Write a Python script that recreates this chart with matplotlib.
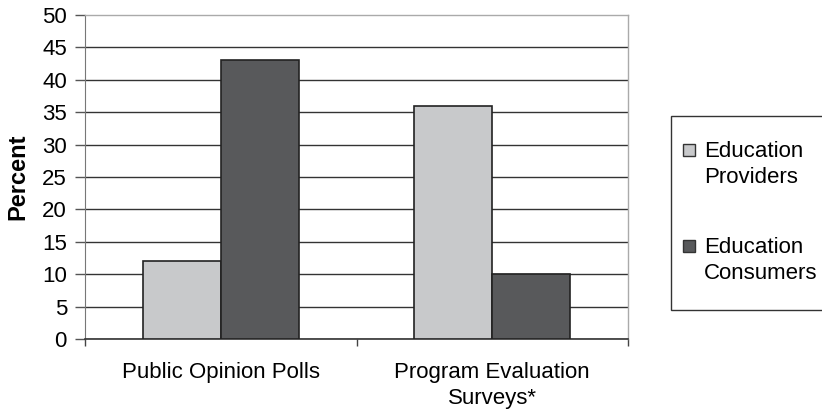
import numpy as np
import matplotlib.pyplot as plt
from matplotlib.patches import Rectangle

plt.rcParams['font.family'] = ['Liberation Sans', 'DejaVu Sans']

# datos del gráfico
categorias = ['Public Opinion Polls', 'Program Evaluation\nSurveys*']
proveedores = [12, 36]
consumidores = [43, 10]
series = ['Education\nProviders', 'Education\nConsumers']
colores = ['#c8c9cb', '#58595b']

fig = plt.figure(figsize=(8.22, 4.17), dpi=100)
W, H = 822, 417
ax = fig.add_axes([85 / W, 78 / H, 543 / W, 324 / H])

x = np.arange(len(categorias))
ancho = 0.287
ax.bar(x - ancho / 2, proveedores, ancho, color=colores[0],
       edgecolor='#222222', linewidth=1.2, zorder=3)
ax.bar(x + ancho / 2, consumidores, ancho, color=colores[1],
       edgecolor='#222222', linewidth=1.2, zorder=3)

ax.set_xlim(-0.5, 1.5)
ax.set_ylim(0, 50)
ax.set_yticks(range(0, 51, 5))
ax.yaxis.grid(True, color='#333333', linewidth=1.0)
ax.get_ygridlines()[-1].set_visible(False)
ax.set_axisbelow(True)

# marcas del eje x en los bordes de cada categoría
ax.set_xticks([-0.5, 0.5, 1.5])
ax.set_xticklabels([])
ax.tick_params(axis='x', direction='out', length=5, color='#444444', width=1)
ax.tick_params(axis='y', direction='out', length=7, width=1, color='#555555',
               labelsize=16, pad=6)

# nombres de las categorías bajo el eje
trans = ax.get_xaxis_transform()
for xi, cat in zip(x, categorias):
    ax.text(xi, -23 / 324, cat, transform=trans, ha='center', va='top',
            fontsize=16, linespacing=1.3, multialignment='center')

for lado in ['top', 'right']:
    ax.spines[lado].set_color('#aaaaaa')
    ax.spines[lado].set_linewidth(1)
ax.spines['left'].set_color('#777777')
ax.spines['bottom'].set_color('#333333')
ax.spines['bottom'].set_linewidth(1.2)

ax.set_ylabel('Percent', fontsize=17, fontweight='bold')
ax.yaxis.set_label_coords(-56 / 543, 0.5)

# leyenda dibujada a mano (el marco sigue más allá del borde derecho)
fig.add_artist(Rectangle((671 / W, 1 - 310 / H), 170 / W, 194 / H,
                         transform=fig.transFigure, facecolor='white',
                         edgecolor='#333333', linewidth=1, clip_on=False))
for i, (nombre, color) in enumerate(zip(series, colores)):
    y_txt = 150 + i * 96
    fig.add_artist(Rectangle((683 / W, 1 - (y_txt + 6) / H), 12 / W, 12 / H,
                             transform=fig.transFigure, facecolor=color,
                             edgecolor='#333333', linewidth=1))
    fig.text(704 / W, 1 - (y_txt - 9) / H, nombre, fontsize=16, va='top',
             ha='left', linespacing=1.3)

fig.savefig('out.png', dpi=100)
